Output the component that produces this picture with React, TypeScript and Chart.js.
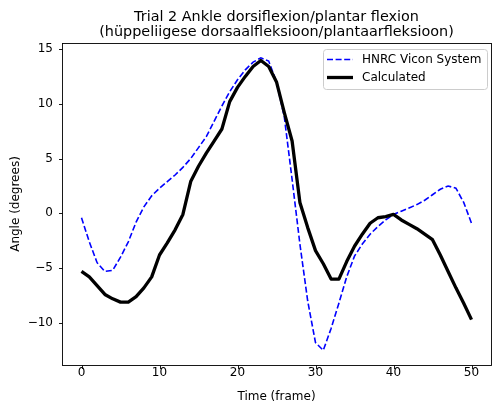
import React, { useEffect, useRef } from "react";
import { Chart, registerables } from "chart.js";

Chart.register(...registerables);

const frames = [
  0, 1, 2, 3, 4, 5, 6, 7, 8, 9, 10, 11, 12, 13, 14, 15, 16, 17, 18, 19, 20, 21, 22, 23, 24, 25,
  26, 27, 28, 29, 30, 31, 32, 33, 34, 35, 36, 37, 38, 39, 40, 41, 42, 43, 44, 45, 46, 47, 48, 49, 50,
];

const viconValues = [
  -0.4, -2.6, -4.5, -5.3, -5.2, -4.0, -2.6, -0.8, 0.6, 1.6, 2.3, 2.9, 3.5, 4.2, 5.0, 6.0, 7.0, 8.4,
  9.8, 11.1, 12.2, 13.1, 13.8, 14.2, 13.9, 12.0, 8.8, 3.1, -2.8, -8.0, -11.8, -12.5, -10.5, -8.2,
  -5.8, -3.9, -2.8, -1.9, -1.2, -0.6, -0.1, 0.2, 0.5, 0.8, 1.2, 1.7, 2.2, 2.5, 2.3, 1.0, -0.9,
];

const calculatedValues = [
  -5.3, -5.8, -6.6, -7.4, -7.8, -8.1, -8.1, -7.6, -6.8, -5.8, -3.8, -2.7, -1.5, -0.1, 2.9, 4.3, 5.5,
  6.6, 7.7, 10.2, 11.5, 12.5, 13.4, 13.95, 13.4, 12.0, 9.2, 6.6, 1.0, -1.3, -3.4, -4.6, -6.0, -6.0,
  -4.4, -3.0, -1.9, -0.9, -0.4, -0.3, -0.1, -0.6, -1.0, -1.4, -1.9, -2.4, -3.8, -5.3, -6.8, -8.2, -9.7,
];

const xTicks = [0, 10, 20, 30, 40, 50];
const yTicks = [-10, -5, 0, 5, 10, 15];
const titleLines = [
  "Trial 2 Ankle dorsiflexion/plantar flexion",
  "(hüppeliigese dorsaalfleksioon/plantaarfleksioon)",
];
const seriesNames = ["HNRC Vicon System", "Calculated"];
const xLabel = "Time (frame)";
const yLabel = "Angle (degrees)";

const FONT = "DejaVu Sans";

const fmt = (v: number) => (v < 0 ? "\u2212" + Math.abs(v) : String(v));

const framePlugin = {
  id: "mplFrame",
  afterDraw(chart: any) {
    const { ctx, chartArea } = chart;
    const { left, right, top, bottom } = chartArea;
    ctx.save();
    // spines
    ctx.strokeStyle = "#000";
    ctx.lineWidth = 0.9;
    ctx.strokeRect(Math.round(left) + 0.5, Math.round(top) + 0.5, Math.round(right - left), Math.round(bottom - top));
    // ticks
    const xs = chart.scales.x;
    const ys = chart.scales.y;
    ctx.beginPath();
    xTicks.forEach((t) => {
      const px = Math.round(xs.getPixelForValue(t)) + 0.5;
      ctx.moveTo(px, Math.round(bottom) + 0.5);
      ctx.lineTo(px, Math.round(bottom) + 4);
    });
    yTicks.forEach((t) => {
      const py = Math.round(ys.getPixelForValue(t)) + 0.5;
      ctx.moveTo(Math.round(left) + 0.5, py);
      ctx.lineTo(Math.round(left) - 3, py);
    });
    ctx.stroke();

    // title
    ctx.fillStyle = "#000";
    ctx.font = `14.4px "${FONT}"`;
    ctx.textAlign = "center";
    ctx.textBaseline = "alphabetic";
    const cx = (left + right) / 2;
    ctx.fillText(titleLines[0], cx, 21);
    ctx.fillText(titleLines[1], cx, 35.5);

    // legend
    const lx = 323.5, ly = 49.5, lw = 164, lh = 40, r = 3;
    ctx.beginPath();
    ctx.moveTo(lx + r, ly);
    ctx.lineTo(lx + lw - r, ly);
    ctx.arcTo(lx + lw, ly, lx + lw, ly + r, r);
    ctx.lineTo(lx + lw, ly + lh - r);
    ctx.arcTo(lx + lw, ly + lh, lx + lw - r, ly + lh, r);
    ctx.lineTo(lx + r, ly + lh);
    ctx.arcTo(lx, ly + lh, lx, ly + lh - r, r);
    ctx.lineTo(lx, ly + r);
    ctx.arcTo(lx, ly, lx + r, ly, r);
    ctx.closePath();
    ctx.fillStyle = "rgba(255,255,255,0.8)";
    ctx.fill();
    ctx.strokeStyle = "#cccccc";
    ctx.lineWidth = 1;
    ctx.stroke();

    const rows = [59.5, 77.5];
    ctx.beginPath();
    ctx.strokeStyle = "#0000ff";
    ctx.lineWidth = 1.6;
    ctx.setLineDash([6, 2.6]);
    ctx.moveTo(327, rows[0]);
    ctx.lineTo(353, rows[0]);
    ctx.stroke();
    ctx.setLineDash([]);
    ctx.beginPath();
    ctx.strokeStyle = "#000";
    ctx.lineWidth = 3.3;
    ctx.moveTo(327, rows[1]);
    ctx.lineTo(353, rows[1]);
    ctx.stroke();

    ctx.fillStyle = "#000";
    ctx.font = `12px "${FONT}"`;
    ctx.textAlign = "left";
    ctx.textBaseline = "middle";
    ctx.fillText(seriesNames[0], 362, rows[0]);
    ctx.fillText(seriesNames[1], 362, rows[1]);
    ctx.restore();
  },
};

export default function App() {
  const ref = useRef<HTMLCanvasElement | null>(null);
  useEffect(() => {
    document.body.style.margin = "0";
    const canvas = ref.current;
    if (!canvas) return;
    const chart = new Chart(canvas, {
      type: "line",
      data: {
        datasets: [
          {
            label: seriesNames[0],
            data: frames.map((f, i) => ({ x: f, y: viconValues[i] })),
            borderColor: "#0000ff",
            borderWidth: 1.6,
            borderDash: [6, 2.6],
            pointRadius: 0,
            tension: 0,
            fill: false,
            order: 1,
          },
          {
            label: seriesNames[1],
            data: frames.map((f, i) => ({ x: f, y: calculatedValues[i] })),
            borderColor: "#000000",
            borderWidth: 3.3,
            pointRadius: 0,
            tension: 0,
            fill: false,
            order: 0,
            borderJoinStyle: "round",
          },
        ],
      },
      options: {
        animation: false,
        responsive: false,
        devicePixelRatio: 1,
        layout: { padding: { left: 0, top: 43, right: 1, bottom: 0 } },
        plugins: {
          legend: { display: false },
          title: { display: false },
          tooltip: { enabled: false },
        },
        scales: {
          x: {
            type: "linear",
            min: -2.5,
            max: 52.5,
            afterBuildTicks: (s: any) => {
              s.ticks = xTicks.map((v) => ({ value: v }));
            },
            afterFit: (s: any) => {
              s.height = 40;
            },
            grid: { display: false, drawTicks: false },
            border: { display: false },
            ticks: {
              padding: 1,
              color: "#000",
              font: { family: FONT, size: 12 },
              callback: (v: any) => fmt(Number(v)),
              maxRotation: 0,
              autoSkip: false,
            },
            title: {
              display: true,
              text: xLabel,
              color: "#000",
              font: { family: FONT, size: 12 },
              padding: { top: 0, bottom: 1 },
            },
          },
          y: {
            type: "linear",
            min: -13.84,
            max: 15.55,
            afterBuildTicks: (s: any) => {
              s.ticks = yTicks.map((v) => ({ value: v }));
            },
            afterFit: (s: any) => {
              s.width = 62;
            },
            grid: { display: false, drawTicks: false },
            border: { display: false },
            ticks: {
              padding: 9,
              color: "#000",
              font: { family: FONT, size: 12 },
              callback: (v: any) => fmt(Number(v)),
              autoSkip: false,
            },
            title: {
              display: true,
              text: yLabel,
              color: "#000",
              font: { family: FONT, size: 12 },
              padding: { top: 9, bottom: 0 },
            },
          },
        },
      },
      plugins: [framePlugin],
    });
    return () => chart.destroy();
  }, []);
  return (
    <div style={{ position: "fixed", left: 0, top: 0, width: 492, height: 405 }}>
      <canvas ref={ref} width={492} height={405} style={{ width: 492, height: 405, display: "block" }} />
    </div>
  );
}
